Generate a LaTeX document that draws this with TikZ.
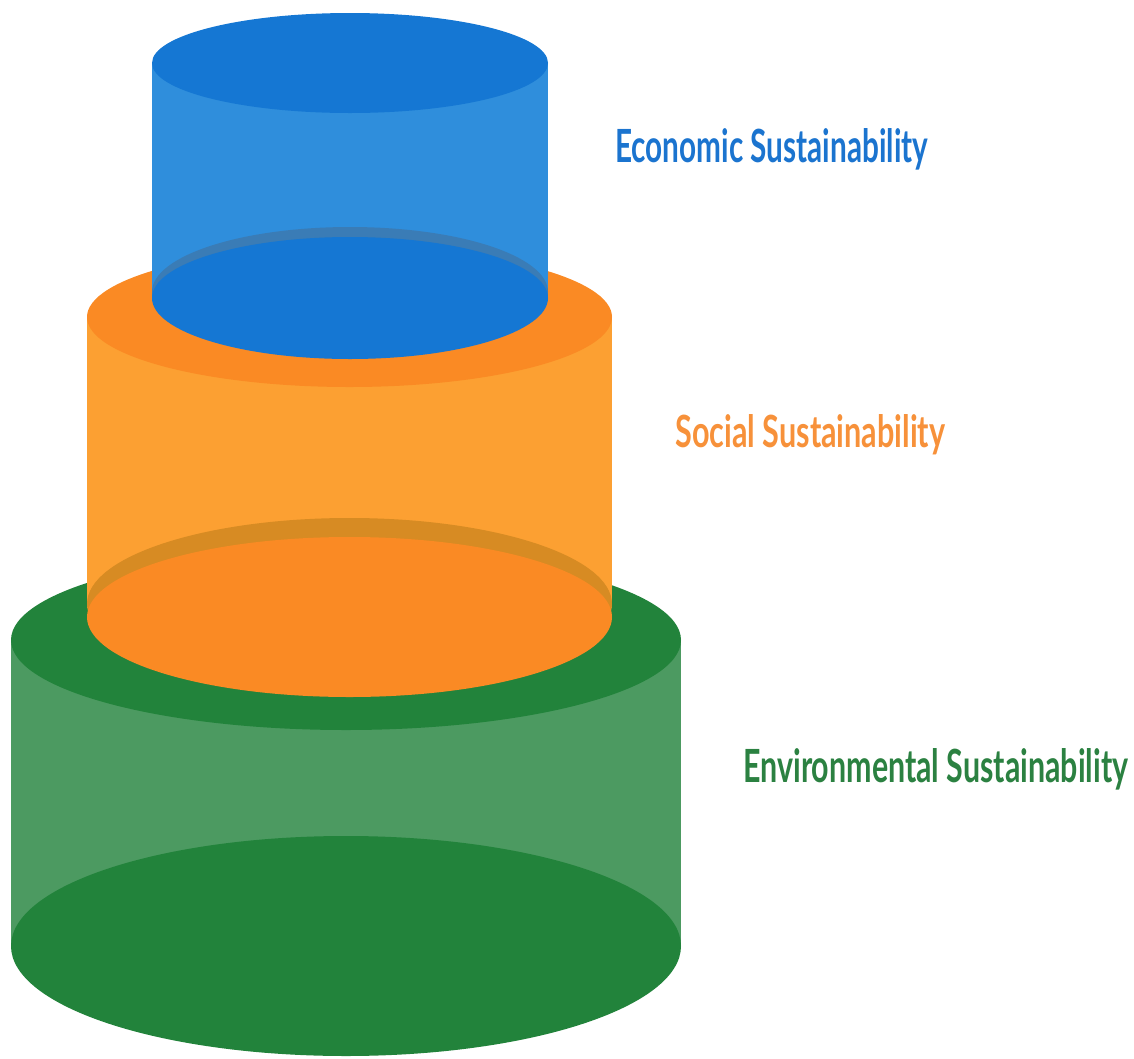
\documentclass[tikz,border=0pt]{standalone}
\usepackage{fontspec}
\setmainfont{Lato}
\usepackage{tikz}
\usetikzlibrary{positioning}
\definecolor{blueTop}{HTML}{1577D3}
\definecolor{blueSide}{HTML}{2F8EDC}
\definecolor{blueBand}{HTML}{3A7CB6}
\definecolor{blueText}{HTML}{1B74CF}
\definecolor{orangeTop}{HTML}{FA8A24}
\definecolor{orangeSide}{HTML}{FCA032}
\definecolor{orangeBand}{HTML}{D78B23}
\definecolor{orangeText}{HTML}{F7913A}
\definecolor{greenTop}{HTML}{22833B}
\definecolor{greenSide}{HTML}{4C9A61}
\definecolor{greenText}{HTML}{2B8141}

\begin{document}
\begin{tikzpicture}[x=0.02cm, y=-0.02cm,
        every node/.style={inner sep=0pt, anchor=base west, font=\bfseries}]
        \useasboundingbox (0,0) rectangle (1134,1059);

        %----------------  Environmental  ----------------
        \fill[greenSide] (11,640) rectangle (681,946);
        \fill[greenTop] (346,946) ellipse [x radius=335, y radius=110];
        \fill[greenTop] (346,640) ellipse [x radius=335, y radius=90];

        %----------------  Social  ----------------
        \fill[orangeSide] (87,317) rectangle (612,608);
        \fill[orangeBand] (349.5,604) ellipse [x radius=262.5, y radius=86];
        \fill[orangeTop] (349.5,617) ellipse [x radius=262.5, y radius=80];
        \fill[orangeTop] (349.5,317) ellipse [x radius=262.5, y radius=70];

        %----------------  Economic  ----------------
        \fill[blueSide] (152,63) rectangle (548,296);
        \fill[blueBand] (350,292) ellipse [x radius=198, y radius=65];
        \fill[blueTop] (350,298) ellipse [x radius=198, y radius=61];
        \fill[blueTop] (350,63) ellipse [x radius=198, y radius=50];

        %----------------  labels  ----------------
        \node[text=blueText] (econ) at (615,162)
            {\resizebox{6.26cm}{0.68cm}{Economic Sustainability}};
        \node[text=orangeText] (social) at (675,447)
            {\resizebox{5.40cm}{0.66cm}{Social Sustainability}};
        \node[text=greenText] (env) at (743,782)
            {\resizebox{7.70cm}{0.68cm}{Environmental Sustainability}};

\end{tikzpicture}
\end{document}
